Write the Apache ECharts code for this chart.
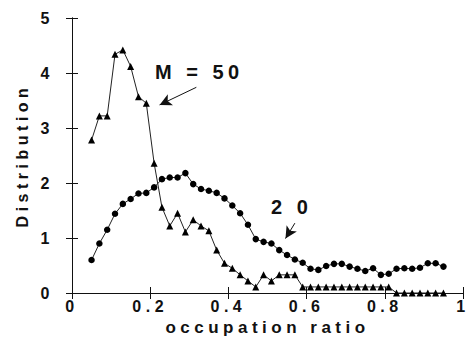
<!DOCTYPE html>
<html>
<head>
<meta charset="utf-8">
<script src="https://cdn.jsdelivr.net/npm/echarts@6/dist/echarts.min.js"></script>
<style>
html,body{margin:0;padding:0;background:#fff;}
#c{width:471px;height:341px;}
#c svg text{letter-spacing:4.5px;}
</style>
</head>
<body>
<div id="c"></div>
<script>
// occupation ratio sample positions
const ratios = [0.05,0.07,0.09,0.11,0.13,0.15,0.17,0.19,0.21,0.23,0.25,0.27,0.29,0.31,0.33,0.35,0.37,0.39,0.41,0.43,0.45,0.47,0.49,0.51,0.53,0.55,0.57,0.59,0.61,0.63,0.65,0.67,0.69,0.71,0.73,0.75,0.77,0.79,0.81,0.83,0.85,0.87,0.89,0.91,0.93,0.95];
// M = 20 (circles)
const distM20 = [0.60,0.90,1.15,1.44,1.62,1.71,1.81,1.82,1.92,2.07,2.10,2.10,2.18,1.98,1.89,1.86,1.82,1.72,1.59,1.45,1.24,0.98,0.93,0.90,0.78,0.69,0.61,0.55,0.44,0.42,0.49,0.53,0.53,0.48,0.44,0.40,0.45,0.33,0.35,0.44,0.45,0.44,0.46,0.54,0.54,0.48];
// M = 50 (triangles)
const distM50 = [2.78,3.22,3.22,4.34,4.42,4.12,3.57,3.45,2.36,1.56,1.22,1.45,1.11,1.33,1.22,1.13,0.78,0.54,0.45,0.33,0.22,0.11,0.33,0.22,0.33,0.33,0.33,0.11,0.11,0.11,0.11,0.11,0.11,0.11,0.11,0.11,0.11,0.11,0.11,0.0,0.0,0.0,0.0,0.0,0.0,0.0];
// annotation arrows [from, to] in data coordinates
const arrowM50 = [[0.318,3.74],[0.224,3.42]];
const arrowM20 = [[0.570,1.27],[0.546,0.99]];
const xTicks = [0,0.2,0.4,0.6,0.8,1];
const yTicks = [0,1,2,3,4,5];

const chart = echarts.init(document.getElementById('c'), null, {renderer:'svg'});
const FONT = 'Liberation Sans, Arial, Helvetica, sans-serif';
const axisLine = {show:true, lineStyle:{color:'#111', width:1}};
const baseX = {
  type:'value', min:0, max:1, interval:0.2,
  axisLine, splitLine:{show:false},
  axisTick:{show:true, inside:true, length:6, lineStyle:{color:'#111'}}
};
const baseY = {
  type:'value', min:0, max:5, interval:1,
  axisLine, splitLine:{show:false},
  axisTick:{show:true, inside:true, length:6, lineStyle:{color:'#111'}}
};
chart.setOption({
  animation:false,
  backgroundColor:'#fff',
  grid:{left:72, right:8, top:18, bottom:48, containLabel:false},
  xAxis:[
    Object.assign({}, baseX, {
      position:'bottom',
      name:'occupation ratio', nameLocation:'middle', nameGap:22,
      nameTextStyle:{fontFamily:FONT, fontWeight:'bold', fontSize:17, color:'#111'},
      axisLabel:{fontFamily:FONT, fontWeight:'bold', fontSize:16, color:'#111', margin:5,
        formatter:v => xTicks.indexOf(v) >= 0 ? (v===0||v===1 ? String(v) : v.toFixed(1)) : ''}
    }),
    Object.assign({}, baseX, {position:'top', axisLabel:{show:false}})
  ],
  yAxis:[
    Object.assign({}, baseY, {
      position:'left',
      name:'Distribution', nameLocation:'middle', nameGap:42,
      nameTextStyle:{fontFamily:FONT, fontWeight:'bold', fontSize:16, color:'#111'},
      axisLabel:{fontFamily:FONT, fontWeight:'bold', fontSize:16, color:'#111', margin:18,
        formatter:v => yTicks.indexOf(v) >= 0 ? String(v) : ''}
    }),
    Object.assign({}, baseY, {position:'right', axisLabel:{show:false}})
  ],
  series:[
    {
      name:'M = 50', type:'line',
      data: ratios.map((x,i)=>[x, distM50[i]]),
      symbol:'triangle', symbolSize:7, showAllSymbol:true,
      lineStyle:{color:'#222', width:1},
      itemStyle:{color:'#000'},
      markLine:{
        silent:true, symbol:['none','arrow'], symbolSize:[9,12],
        lineStyle:{color:'#111', width:1, type:'solid'}, label:{show:false},
        data:[[{coord:arrowM50[0]},{coord:arrowM50[1]}]]
      }
    },
    {
      name:'M = 20', type:'line',
      data: ratios.map((x,i)=>[x, distM20[i]]),
      symbol:'circle', symbolSize:6.5, showAllSymbol:true,
      lineStyle:{color:'#222', width:1},
      itemStyle:{color:'#000'},
      markLine:{
        silent:true, symbol:['none','arrow'], symbolSize:[9,12],
        lineStyle:{color:'#111', width:1, type:'solid'}, label:{show:false},
        data:[[{coord:arrowM20[0]},{coord:arrowM20[1]}]]
      }
    }
  ],
  graphic:[
    {type:'text', left:155, top:62, style:{text:'M = 50', font:'bold 20px '+FONT, fill:'#111'}},
    {type:'text', left:271, top:197, style:{text:'2 0', font:'bold 20px '+FONT, fill:'#111'}}
  ]
});
</script>
</body>
</html>
